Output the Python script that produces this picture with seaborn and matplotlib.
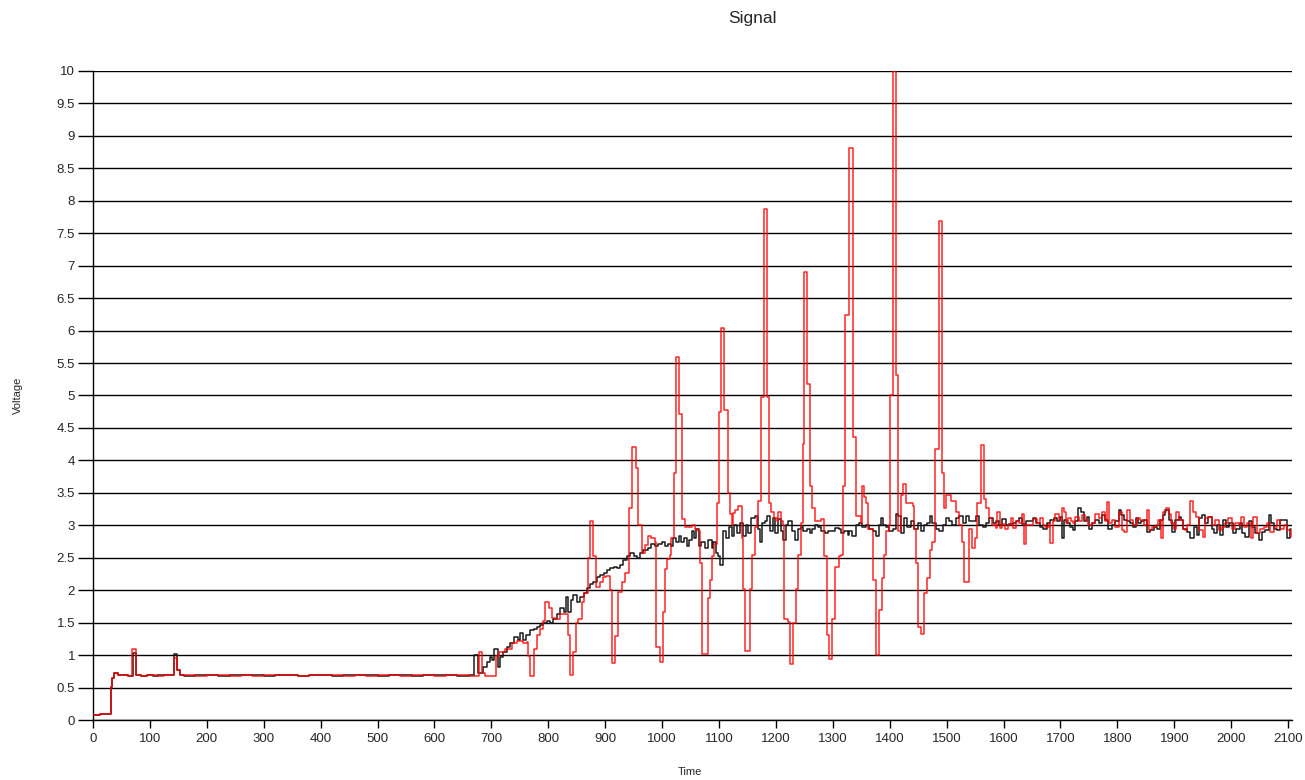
import matplotlib
matplotlib.use("Agg")
import matplotlib.pyplot as plt
import seaborn as sns
import pandas as pd

# ---------------- data (step breakpoints) ----------------
black_time = [
    0, 12, 31, 34, 37, 44, 55, 62, 70, 76, 85, 95, 105, 115, 125, 135, 142, 148, 152,
    160, 180, 200, 220, 240, 260, 280, 300, 320, 340, 360, 380, 400, 420, 440, 460,
    480, 500, 520, 540, 560, 580, 600, 620, 640, 660,
    670, 677, 686, 692, 697, 701, 705, 711, 715, 721, 727, 733, 739, 746, 750, 756,
    761, 767, 774, 780, 786, 791, 797, 803, 809, 815, 821, 827, 831, 835, 840, 844,
    850, 856, 862, 868, 874, 879, 885, 891, 897, 903, 909, 915, 920, 926, 932, 938,
    944, 950, 956, 961, 967, 975, 981, 987, 993, 999, 1005, 1011, 1015, 1019, 1025,
    1029, 1034, 1039, 1043, 1047, 1052, 1056, 1060, 1065, 1069, 1075, 1081, 1087,
    1090, 1094, 1099, 1101, 1107, 1113, 1117, 1122, 1127, 1131, 1137, 1143, 1147,
    1151, 1157, 1163, 1168, 1172, 1176, 1181, 1185, 1189, 1194, 1198, 1203, 1209,
    1213, 1217, 1222, 1228, 1233, 1238, 1244, 1248, 1254, 1260, 1264, 1269, 1274,
    1280, 1286, 1292, 1298, 1304, 1310, 1314, 1320, 1326, 1328, 1334, 1340, 1346,
    1352, 1358, 1364, 1370, 1375, 1381, 1384, 1388, 1394, 1399, 1405, 1411, 1415,
    1419, 1425, 1431, 1437, 1443, 1449, 1455, 1460, 1466, 1470, 1475, 1481, 1487,
    1493, 1499, 1504, 1510, 1516, 1522, 1528, 1534, 1540, 1545, 1551, 1557, 1563,
    1569, 1575, 1581, 1587, 1592, 1598, 1604, 1610, 1616, 1622, 1628, 1633, 1639,
    1645, 1651, 1657, 1664, 1670, 1676, 1682, 1688, 1694, 1700, 1703, 1706, 1712,
    1717, 1722, 1726, 1730, 1736, 1741, 1746, 1751, 1755, 1761, 1767, 1773, 1779,
    1784, 1790, 1796, 1802, 1806, 1811, 1817, 1823, 1828, 1833, 1837, 1841, 1846,
    1852, 1858, 1864, 1869, 1875, 1880, 1884, 1890, 1896, 1902, 1908, 1912, 1916,
    1922, 1928, 1934, 1940, 1944, 1949, 1954, 1960, 1966, 1970, 1975, 1981, 1985,
    1991, 1997, 2003, 2009, 2015, 2019, 2025, 2031, 2036, 2042, 2048, 2054, 2060,
    2066, 2070, 2075, 2080, 2086, 2092, 2098, 2103, 2105,
]
black_volt = [
    0.07, 0.10, 0.51, 0.64, 0.72, 0.69, 0.70, 0.68, 1.03, 0.69, 0.68, 0.70, 0.68, 0.70, 0.69, 0.70, 1.02, 0.77, 0.69,
    0.68, 0.70, 0.69, 0.68, 0.70, 0.69, 0.69, 0.68, 0.70, 0.69, 0.68, 0.69, 0.70, 0.68, 0.69,
    0.70, 0.69, 0.68, 0.69, 0.70, 0.68, 0.69, 0.70, 0.69, 0.68, 0.69,
    1.00, 0.72, 0.82, 0.90, 0.97, 0.92, 1.10, 0.82, 0.97, 1.05, 1.13, 1.18, 1.28, 1.23, 1.34, 1.23,
    1.31, 1.39, 1.41, 1.44, 1.47, 1.50, 1.53, 1.49, 1.55, 1.64, 1.72, 1.67, 1.90, 1.67, 1.85, 1.93,
    1.82, 1.90, 1.95, 2.03, 2.10, 2.13, 2.21, 2.24, 2.26, 2.31, 2.34, 2.36, 2.34, 2.39, 2.47, 2.52,
    2.57, 2.52, 2.49, 2.57, 2.62, 2.65, 2.71, 2.68, 2.71, 2.75, 2.68, 2.71, 2.68, 2.81, 2.75,
    2.84, 2.75, 2.81, 2.68, 2.78, 2.91, 2.81, 2.94, 2.68, 2.75, 2.65, 2.78, 2.65,
    2.75, 2.58, 2.52, 2.39, 2.91, 2.81, 2.98, 2.84, 3.01, 2.88, 3.04, 2.84, 3.01,
    2.88, 3.11, 3.14, 2.94, 2.75, 3.04, 3.07, 3.14, 2.91, 3.11, 2.88, 3.09, 2.91,
    2.78, 3.01, 3.07, 2.91, 2.78, 2.94, 2.98, 2.91, 2.94, 2.88, 2.94, 3.01, 2.98,
    2.91, 2.88, 2.91, 2.91, 2.96, 2.94, 2.88, 2.91, 2.85, 2.91, 2.84, 3.01, 3.04,
    2.98, 3.01, 2.94, 2.91, 2.84, 3.01, 3.11, 3.01, 2.98, 2.91, 2.94, 3.17, 3.14,
    2.88, 3.11, 2.98, 3.07, 2.94, 3.04, 2.91, 3.01, 3.04, 3.14, 3.04, 2.94, 2.91,
    3.01, 3.11, 3.07, 3.01, 3.11, 3.15, 3.04, 3.14, 3.07, 3.07, 3.14, 3.01, 2.98,
    3.04, 3.11, 3.04, 3.07, 3.01, 3.09, 3.01, 3.02, 3.04, 3.07, 3.11, 3.02, 3.06,
    3.07, 3.11, 3.04, 2.98, 2.95, 3.03, 3.08, 3.11, 3.06, 3.13, 2.80, 3.08, 3.03,
    2.98, 2.93, 3.06, 3.26, 3.21, 3.06, 3.13, 2.95, 3.03, 3.08, 3.03, 3.16, 3.08,
    2.95, 3.00, 3.06, 3.24, 3.16, 3.08, 3.06, 3.03, 2.98, 3.11, 3.03, 3.06, 3.08,
    2.90, 2.93, 2.98, 2.95, 3.08, 3.16, 3.24, 3.08, 2.90, 3.08, 3.13, 3.08, 2.95,
    2.90, 2.80, 2.98, 2.85, 3.11, 3.16, 3.03, 3.13, 2.95, 2.88, 3.00, 2.85, 3.08,
    2.98, 3.03, 2.88, 2.95, 3.03, 2.88, 2.82, 3.06, 2.98, 2.88, 2.77, 2.90, 2.93,
    3.16, 3.03, 2.95, 2.93, 3.08, 3.08, 2.80, 2.95, 2.95,
]

red_time = [
    0, 12, 31, 34, 37, 44, 55, 62, 69, 75, 85, 95, 105, 115, 125, 135, 142, 148, 152,
    160, 180, 200, 220, 240, 260, 280, 300, 320, 340, 360, 380, 400, 420, 440, 460,
    480, 500, 520, 540, 560, 580, 600, 620, 640, 660,
    679, 684, 689, 708, 714, 724, 736, 745, 756, 763, 765, 767, 774, 780, 786, 791,
    794, 802, 806, 812, 821, 834, 838, 844, 848, 853, 859, 863, 869, 874, 878, 884,
    890, 896, 902, 908, 912, 918, 923, 929, 935, 941, 947, 954, 958, 964, 970, 976,
    981, 987, 990, 996, 1001, 1005, 1009, 1013, 1016, 1021, 1025, 1030, 1035, 1040,
    1052, 1057, 1063, 1066, 1070, 1080, 1084, 1087, 1091, 1096, 1100, 1104, 1109,
    1115, 1119, 1122, 1125, 1128, 1134, 1140, 1143, 1145, 1154, 1158, 1163, 1166,
    1169, 1173, 1179, 1185, 1188, 1192, 1197, 1201, 1204, 1209, 1213, 1215, 1222,
    1225, 1230, 1235, 1239, 1244, 1247, 1250, 1255, 1260, 1264, 1269, 1280, 1285,
    1289, 1294, 1299, 1304, 1310, 1314, 1317, 1321, 1328, 1335, 1340, 1349, 1351,
    1355, 1359, 1361, 1370, 1375, 1381, 1386, 1390, 1394, 1398, 1401, 1405, 1411,
    1415, 1419, 1423, 1429, 1440, 1443, 1447, 1450, 1455, 1460, 1466, 1470, 1475,
    1480, 1486, 1491, 1496, 1499, 1507, 1517, 1522, 1527, 1531, 1540, 1544, 1550,
    1554, 1561, 1566, 1570, 1575, 1579, 1587, 1589, 1594, 1598, 1603, 1607, 1613,
    1616, 1622, 1628, 1632, 1636, 1640, 1651, 1658, 1664, 1669, 1673, 1679, 1682,
    1687, 1691, 1697, 1702, 1707, 1710, 1714, 1718, 1722, 1726, 1732, 1738, 1743,
    1749, 1755, 1761, 1767, 1773, 1779, 1782, 1786, 1790, 1796, 1802, 1808, 1811,
    1817, 1823, 1828, 1834, 1840, 1846, 1852, 1855, 1861, 1867, 1872, 1876, 1881,
    1886, 1890, 1894, 1899, 1903, 1909, 1915, 1919, 1922, 1927, 1933, 1939, 1944,
    1950, 1954, 1960, 1966, 1972, 1978, 1984, 1990, 1995, 2001, 2007, 2013, 2017,
    2023, 2028, 2034, 2039, 2045, 2051, 2057, 2063, 2069, 2075, 2080, 2086, 2092,
    2098, 2105,
]
red_volt = [
    0.07, 0.10, 0.51, 0.64, 0.72, 0.69, 0.70, 0.68, 1.10, 0.70, 0.68, 0.69, 0.70, 0.68, 0.69, 0.70, 0.95, 0.77, 0.69,
    0.69, 0.68, 0.70, 0.69, 0.68, 0.70, 0.68, 0.69, 0.69, 0.70, 0.68, 0.70, 0.69, 0.69, 0.68,
    0.70, 0.68, 0.69, 0.70, 0.68, 0.69, 0.70, 0.68, 0.70, 0.69, 0.68,
    1.05, 0.72, 0.68, 0.98, 1.05, 1.10, 1.18, 1.21, 1.18, 1.20, 0.99, 0.68, 1.10, 1.31, 1.41, 1.52,
    1.82, 1.72, 1.57, 1.55, 1.64, 1.31, 0.69, 1.05, 1.49, 1.55, 1.82, 1.95, 2.49, 3.06, 2.52, 2.05,
    2.13, 2.21, 2.22, 2.00, 0.88, 1.29, 1.98, 2.13, 2.26, 3.26, 4.21, 3.88, 3.00, 2.57, 2.70, 2.83,
    2.81, 2.74, 1.12, 0.89, 1.66, 2.32, 2.48, 2.55, 2.81, 3.81, 5.60, 4.72, 3.09, 2.98,
    3.00, 2.94, 2.91, 2.42, 1.02, 1.88, 2.16, 2.52, 2.71, 3.34, 4.75, 6.04, 4.78,
    3.50, 3.17, 3.00, 3.19, 3.24, 3.30, 2.81, 2.02, 1.07, 2.02, 2.55, 2.98, 3.14,
    3.37, 4.98, 7.88, 4.98, 3.34, 3.21, 3.11, 3.07, 3.21, 3.07, 3.00, 1.56, 1.51,
    0.87, 1.49, 2.02, 2.55, 3.04, 4.26, 6.90, 5.18, 3.60, 3.27, 3.07, 3.10, 2.52,
    1.31, 0.94, 1.56, 2.35, 2.52, 2.55, 3.60, 6.24, 8.82, 4.36, 3.14, 3.04, 3.61,
    3.44, 3.34, 2.94, 2.16, 1.00, 1.70, 2.19, 2.55, 2.91, 3.01, 5.01, 10.0, 5.31,
    2.91, 3.47, 3.63, 3.34, 3.30, 2.94, 2.42, 1.43, 1.33, 1.96, 2.19, 2.62, 2.75,
    4.18, 7.69, 3.80, 3.27, 3.47, 3.37, 3.21, 3.00, 2.75, 2.12, 2.94, 2.65, 2.81,
    3.34, 4.24, 3.40, 3.27, 3.11, 3.00, 2.96, 3.20, 2.96, 3.02, 2.94, 3.00, 3.11,
    2.96, 3.07, 3.04, 3.17, 2.71, 3.00, 3.10, 3.04, 3.11, 3.00, 2.98, 3.03, 2.72,
    3.06, 3.18, 3.08, 3.26, 3.21, 3.03, 3.11, 3.06, 3.03, 3.13, 3.06, 3.16, 3.08,
    3.00, 3.03, 3.18, 3.11, 3.21, 3.06, 3.36, 3.03, 3.08, 2.98, 3.21, 2.93, 2.90,
    3.24, 3.08, 3.00, 3.11, 3.08, 3.00, 3.24, 2.93, 2.98, 3.00, 3.08, 2.80, 3.21,
    3.26, 3.18, 3.03, 2.95, 3.21, 3.08, 2.95, 2.93, 3.00, 3.37, 3.21, 3.13, 2.93,
    2.82, 3.11, 3.13, 3.00, 3.08, 2.93, 2.98, 3.03, 3.11, 2.95, 3.03, 3.00, 3.13,
    2.98, 3.03, 2.80, 3.13, 2.88, 2.95, 2.98, 3.03, 2.90, 2.98, 3.08, 2.95, 3.00,
    2.93, 2.82,
]

y_ticks = [0, 0.5, 1, 1.5, 2, 2.5, 3, 3.5, 4, 4.5, 5, 5.5, 6, 6.5, 7, 7.5, 8, 8.5, 9, 9.5, 10]
y_tick_labels = ["0", "0.5", "1", "1.5", "2", "2.5", "3", "3.5", "4", "4.5", "5", "5.5",
                 "6", "6.5", "7", "7.5", "8", "8.5", "9", "9.5", "10"]
x_ticks = [0, 100, 200, 300, 400, 500, 600, 700, 800, 900, 1000, 1100, 1200, 1300,
           1400, 1500, 1600, 1700, 1800, 1900, 2000, 2100]

# ---------------- figure ----------------
sns.set_theme(style="white")
plt.rcParams["font.family"] = ["Liberation Sans", "DejaVu Sans"]

fig = plt.figure(figsize=(13.05, 7.8), dpi=100)
ax = fig.add_axes([0.0713, 0.0769, 0.9188, 0.8321])

black_df = pd.DataFrame({"Time": black_time, "Voltage": black_volt})
red_df = pd.DataFrame({"Time": red_time, "Voltage": red_volt})

sns.lineplot(data=black_df, x="Time", y="Voltage", ax=ax, color="#1a1a1a",
             linewidth=1.1, drawstyle="steps-post", estimator=None, sort=False, zorder=3)
sns.lineplot(data=red_df, x="Time", y="Voltage", ax=ax, color="#ff0000", alpha=0.85,
             linewidth=1.1, drawstyle="steps-post", estimator=None, sort=False, zorder=4)

ax.set_xlim(0, 2107)
ax.set_ylim(0, 10)
ax.set_yticks(y_ticks)
ax.set_yticklabels(y_tick_labels)
ax.set_xticks(x_ticks)
ax.set_xticklabels([str(v) for v in x_ticks])

for yv in y_ticks:
    ax.axhline(yv, color="black", linewidth=1.0, zorder=1)

for side in ["top", "right"]:
    ax.spines[side].set_visible(False)
ax.spines["left"].set_color("black")
ax.spines["bottom"].set_color("black")
ax.spines["left"].set_linewidth(1.0)
ax.spines["bottom"].set_linewidth(1.0)

ax.tick_params(axis="y", which="major", direction="out", length=11, width=1.0,
               color="black", labelsize=9.5, pad=2, left=True)
ax.tick_params(axis="x", which="major", direction="out", length=6, width=1.0,
               color="black", labelsize=9.5, pad=3, bottom=True)
ax.set_xlabel("")
ax.set_ylabel("")

fig.text(752 / 1305, 1 - 18 / 780, "Signal", ha="center", va="center", fontsize=12.5)
fig.text(18 / 1305, 1 - 395 / 780, "Voltage", ha="center", va="center",
         rotation=90, fontsize=8)
fig.text(690 / 1305, 1 - 772 / 780, "Time", ha="center", va="center", fontsize=8)

fig.savefig("out.png", dpi=100)
